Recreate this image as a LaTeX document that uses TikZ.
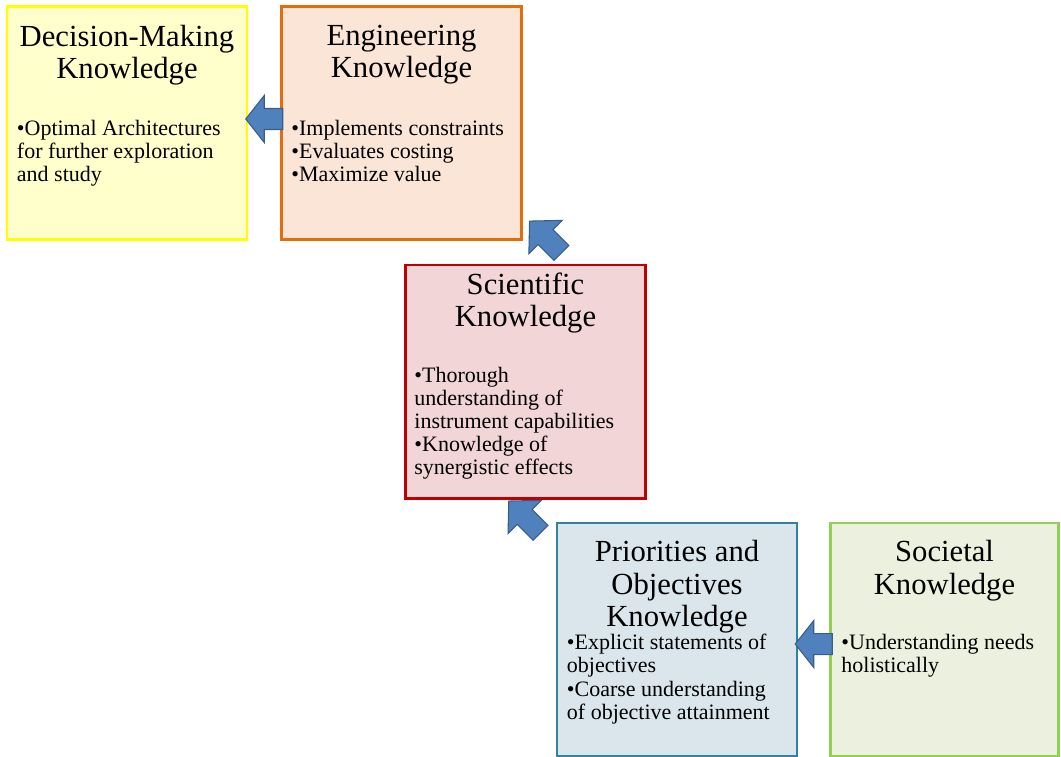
\documentclass[tikz,border=0pt]{standalone}
\usepackage{fontspec}
\setmainfont{Liberation Serif}
\usetikzlibrary{positioning,calc}

\definecolor{decfill}{HTML}{FFFFCC}
\definecolor{decline}{HTML}{FFFF00}
\definecolor{engfill}{HTML}{FBE5D6}
\definecolor{engline}{HTML}{E46C0A}
\definecolor{scifill}{HTML}{F2D5D6}
\definecolor{sciline}{HTML}{C00000}
\definecolor{prifill}{HTML}{DBE6EC}
\definecolor{priline}{HTML}{31849B}
\definecolor{socfill}{HTML}{EBF1DE}
\definecolor{socline}{HTML}{92D050}
\definecolor{arrfill}{HTML}{4F81BD}
\definecolor{arrline}{HTML}{385D8A}

\tikzset{
  box/.style={draw, line width=2pt, minimum width=180pt, minimum height=175pt, inner sep=0pt},
  ttl/.style={align=center, inner sep=0pt, font=\fontsize{23}{24.4}\selectfont},
  body/.style={align=left, inner sep=0pt, font=\fontsize{16.5}{17.3}\selectfont},
  pics/blockarr/.style={code={
    \draw[fill=arrfill, draw=arrline, line width=0.8pt, line join=miter]
      (-#1/2,-10.5) -- (0,-10.5) -- (0,-23.5) -- (#1/2,0) -- (0,23.5) -- (0,10.5) -- (-#1/2,10.5) -- cycle;
  }}
}

\begin{document}
\begin{tikzpicture}[x=0.75pt,y=0.75pt]
  \useasboundingbox (0,0) rectangle (1061,-757);

  % Draw the five knowledge boxes
  \node[box, fill=decfill, draw=decline] (dec) at (127,-123) {};
  \node[box, fill=engfill, draw=engline] (eng) at (401.5,-123) {};
  \node[box, fill=scifill, draw=sciline] (sci) at (525.5,-381.5) {};
  \node[box, fill=prifill, draw=priline] (pri) at (677,-639.5) {};
  \node[box, fill=socfill, draw=socline, minimum width=171pt] (soc) at (944.5,-639.5) {};

  % Titles
  \node[ttl, below=14.75pt of dec.north] (dectitle) {Decision-Making\\Knowledge};
  \node[ttl, below=14.75pt of eng.north] (engtitle) {Engineering\\Knowledge};
  \node[ttl, below=6.5pt of sci.north] (scititle) {Scientific\\Knowledge};
  \node[ttl, below=14pt of pri.north] (prititle) {Priorities and\\Objectives\\Knowledge};
  \node[ttl, below=14pt of soc.north] (soctitle) {Societal\\Knowledge};

  % Bullet texts
  \node[body, below right=86.25pt and 8.25pt of dec.north west] (decbody)
    {•Optimal Architectures\\for further exploration\\and study};
  \node[body, below right=86.25pt and 8.25pt of eng.north west] (engbody)
    {•Implements constraints\\•Evaluates costing\\•Maximize value};
  \node[body, below right=77.25pt and 7.5pt of sci.north west] (scibody)
    {•Thorough\\understanding of\\instrument capabilities\\•Knowledge of\\synergistic effects};
  \node[body, below right=84.5pt and 8.25pt of pri.north west] (pribody)
    {•Explicit statements of\\objectives\\•Coarse understanding\\of objective attainment};
  \node[body, below right=84.5pt and 9pt of soc.north west] (socbody)
    {•Understanding needs\\holistically};

  % Block arrows between the boxes
  \pic[rotate=180] at ([yshift=3pt]$(dec.east)!0.5!(eng.west)$) {blockarr=37};
  \pic[rotate=135] at ([xshift=17pt,yshift=3pt]eng.south east) {blockarr=45};
  \pic[rotate=135] at ([xshift=-23.25pt,yshift=3.4pt]pri.north west) {blockarr=45};
  \pic[rotate=180] at ([yshift=-3.4pt]$(pri.east)!0.5!(soc.west)$) {blockarr=37};
\end{tikzpicture}
\end{document}
